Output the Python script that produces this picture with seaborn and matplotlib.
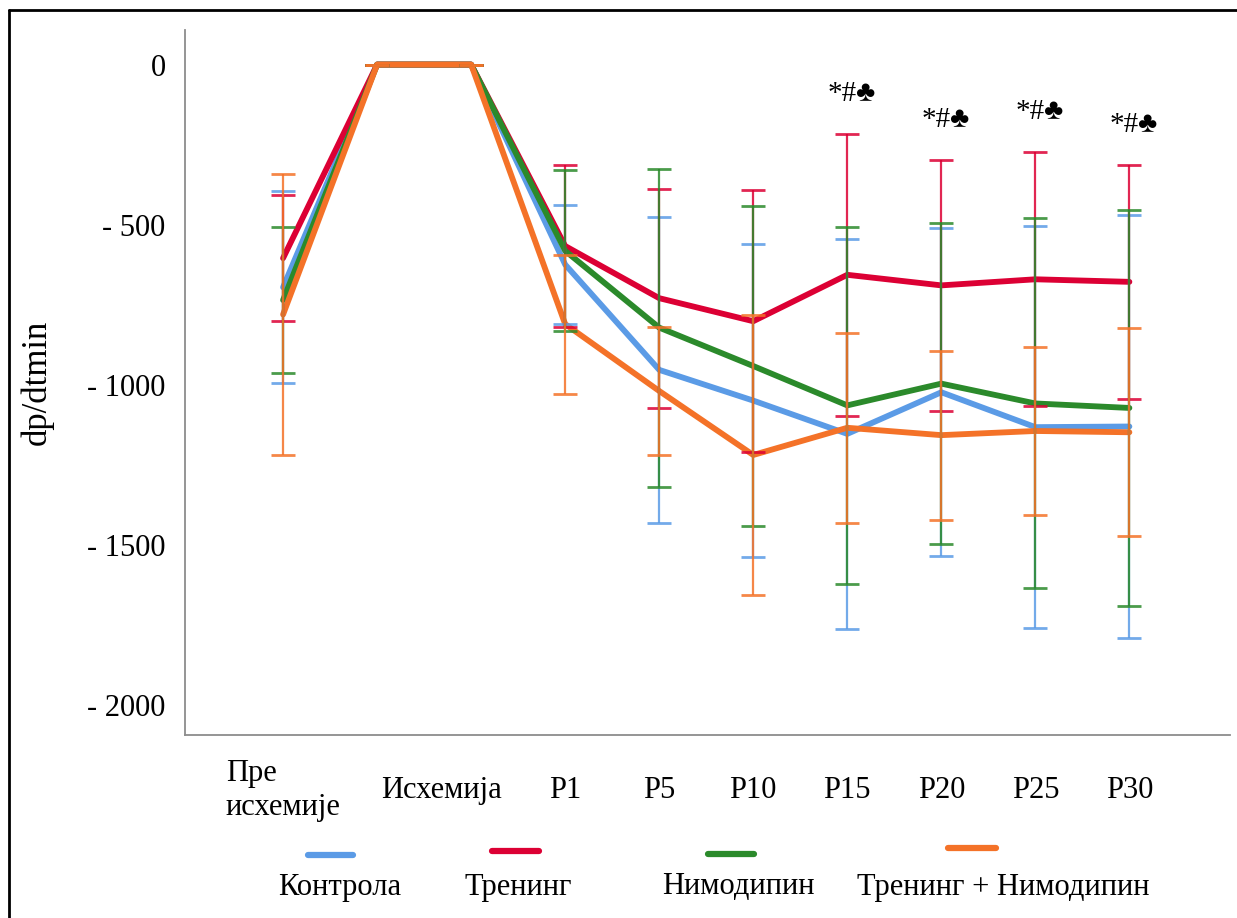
import numpy as np
import pandas as pd
import matplotlib
matplotlib.use("Agg")
import matplotlib.pyplot as plt
from matplotlib.lines import Line2D
import seaborn as sns

# ========================= Data =========================
timepoints = ["Пре\nисхемије", "Исхемија", "Исхемија", "P1", "P5", "P10", "P15", "P20", "P25", "P30"]
tick_labels = ["Пре\nисхемије", "Исхемија", "P1", "P5", "P10", "P15", "P20", "P25", "P30"]
tick_pos = [0, 1.68, 3, 4, 5, 6, 7, 8, 9]

groups = ["Контрола", "Тренинг", "Нимодипин", "Тренинг + Нимодипин"]
colors = ["#5B9BE6", "#DC0034", "#2B8A2B", "#F47228"]

kontrola_mean = [-696, 0, 0, -625, -954, -1050, -1154, -1024, -1133, -1131]
kontrola_sd = [300, 0, 0, 187, 478, 490, 610, 513, 628, 661]

trening_mean = [-605, 0, 0, -567, -730, -802, -657, -690, -671, -679]
trening_sd = [197, 0, 0, 253, 342, 409, 440, 391, 397, 365]

nimodipin_mean = [-736, 0, 0, -582, -822, -942, -1065, -997, -1059, -1073]
nimodipin_sd = [228, 0, 0, 251, 497, 499, 558, 501, 578, 620]

tn_mean = [-781, 0, 0, -811, -1020, -1220, -1135, -1158, -1145, -1149]
tn_sd = [440, 0, 0, 217, 200, 436, 297, 264, 263, 325]

# significance markers (above the Тренинг error bar)
sig_idx = [6, 7, 8, 9]
sig_text = "*#♣"

means = [kontrola_mean, trening_mean, nimodipin_mean, tn_mean]
sds = [kontrola_sd, trening_sd, nimodipin_sd, tn_sd]

W, H = 1237, 918

# long-form table for seaborn
rows = []
for g, m, s in zip(groups, means, sds):
    for i in range(len(timepoints)):
        rows.append({"x": i, "Група": g, "mean": m[i], "sd": s[i]})
df = pd.DataFrame(rows)

# ========================= Plot =========================
sns.set_style("white")
plt.rcParams["font.family"] = ["Liberation Serif", "DejaVu Sans"]
plt.rcParams["text.color"] = "black"
plt.rcParams["axes.labelcolor"] = "black"
plt.rcParams["xtick.color"] = "black"
plt.rcParams["ytick.color"] = "black"

fig = plt.figure(figsize=(W / 100, H / 100), dpi=100)
ax = fig.add_axes([185 / W, 1 - 735 / H, (1230 - 185) / W, (735 - 30) / H])

sns.lineplot(data=df, x="x", y="mean", hue="Група", hue_order=groups,
             palette=colors, linewidth=4.2, legend=False, ax=ax, zorder=2)

for g, c in zip(groups, colors):
    d = df[df["Група"] == g]
    ax.errorbar(d["x"], d["mean"], yerr=d["sd"], fmt="none", ecolor=c,
                elinewidth=1.6, capsize=8.5, capthick=2.0, alpha=0.85, zorder=3)

# significance markers
tr = df[df["Група"] == "Тренинг"].set_index("x")
for i in sig_idx:
    top = tr.loc[i, "mean"] + tr.loc[i, "sd"]
    ax.annotate(sig_text, xy=(i, top), xytext=(3, 29), textcoords="offset points",
                ha="center", va="center", fontsize=21, color="black",
                family=["Liberation Serif", "DejaVu Sans"])

# axes cosmetics
ax.set_xlim(-1.043, 10.07)
ax.set_ylim(-2095, 108)
ax.set_yticks([0, -500, -1000, -1500, -2000])
ax.set_yticklabels(["0", "- 500", "- 1000", "- 1500", "- 2000"], fontsize=22)
for lab in ax.get_yticklabels():
    lab.set_va("center_baseline")
ax.set_xticks(tick_pos)
ax.set_xticklabels(tick_labels, fontsize=22)
for lab in ax.get_xticklabels():
    lab.set_va("center")
    lab.set_multialignment("left")
ax.tick_params(axis="x", length=0, pad=40)
ax.tick_params(axis="y", length=0, pad=14)
ax.set_xlabel("")
ax.set_ylabel("dp/dtmin", fontsize=25, labelpad=24)
for side in ["top", "right"]:
    ax.spines[side].set_visible(False)
for side in ["left", "bottom"]:
    ax.spines[side].set_color("#8c8c8c")
    ax.spines[side].set_linewidth(1.3)

# legend: short line above each label
leg_line_x = [(308, 353), (492, 539), (708, 754), (948, 996)]
leg_line_y = [855, 851, 854, 848]
leg_text_x = [340, 518, 738, 1003]
for g, c, (x0, x1), ly, tx in zip(groups, colors, leg_line_x, leg_line_y, leg_text_x):
    fig.add_artist(Line2D([x0 / W, x1 / W], [1 - ly / H, 1 - ly / H], color=c,
                          linewidth=4.5, transform=fig.transFigure))
    fig.text(tx / W, 1 - 887 / H, g, ha="center", va="center", fontsize=22)

# frame of the original image (top and left edges)
fig.add_artist(Line2D([9 / W, 9 / W], [0, 1 - 10 / H], color="black", linewidth=2,
                      transform=fig.transFigure))
fig.add_artist(Line2D([9 / W, 1], [1 - 10 / H, 1 - 10 / H], color="black", linewidth=2,
                      transform=fig.transFigure))

fig.savefig("out.png", dpi=100)
plt.close(fig)
